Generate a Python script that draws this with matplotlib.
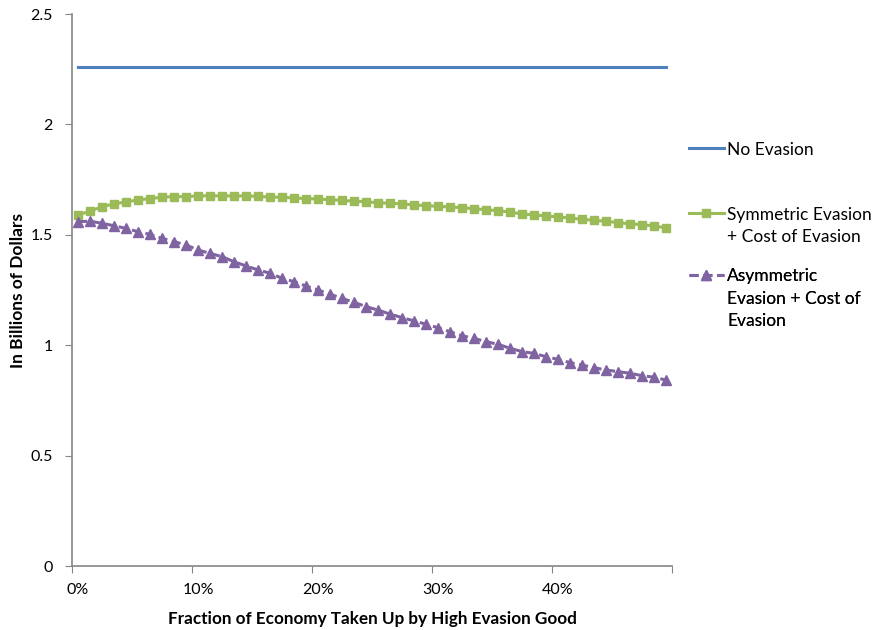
import matplotlib
matplotlib.use("Agg")
import matplotlib.pyplot as plt
from matplotlib.ticker import FixedLocator, NullFormatter

# fraction of economy taken up by high evasion good, 0% .. 49%
fractions = list(range(50))
x_tick_labels = ["0%", "10%", "20%", "30%", "40%"]
y_ticks = [0, 0.5, 1, 1.5, 2, 2.5]
y_tick_labels = ["0", "0.5", "1", "1.5", "2", "2.5"]

series_names = ["No Evasion",
                "Symmetric Evasion\n+ Cost of Evasion",
                "Asymmetric\nEvasion + Cost of\nEvasion"]

no_evasion = [2.26] * 50

symmetric = [
    1.590, 1.607, 1.627, 1.640, 1.649, 1.658, 1.664, 1.670, 1.673, 1.673,
    1.676, 1.677, 1.676, 1.676, 1.676, 1.674, 1.671, 1.670, 1.667, 1.664,
    1.662, 1.659, 1.656, 1.652, 1.650, 1.645, 1.643, 1.640, 1.635, 1.632,
    1.629, 1.626, 1.623, 1.618, 1.614, 1.609, 1.603, 1.594, 1.590, 1.585,
    1.581, 1.576, 1.570, 1.566, 1.561, 1.555, 1.550, 1.546, 1.540, 1.531,
]

asymmetric = [
    1.559, 1.562, 1.552, 1.541, 1.529, 1.514, 1.502, 1.484, 1.469, 1.454,
    1.431, 1.416, 1.401, 1.378, 1.359, 1.341, 1.326, 1.303, 1.288, 1.268,
    1.250, 1.231, 1.212, 1.194, 1.175, 1.159, 1.141, 1.125, 1.110, 1.095,
    1.079, 1.061, 1.043, 1.031, 1.016, 1.004, 0.986, 0.971, 0.963, 0.948,
    0.936, 0.921, 0.910, 0.898, 0.888, 0.880, 0.873, 0.862, 0.855, 0.842,
]

plt.rcParams['font.family'] = ['Lato', 'DejaVu Sans']

fig = plt.figure(figsize=(8.72, 6.3), dpi=100)
ax = fig.add_axes([72 / 872, 64 / 630, 600 / 872, 552 / 630])

l1, = ax.plot(fractions, no_evasion, color='#4F81BD', linewidth=2.2)
l2, = ax.plot(fractions, symmetric, color='#9BBB59', linewidth=2.2, marker='s',
              markersize=6)
l3, = ax.plot(fractions, asymmetric, color='#8064A2', linewidth=2.2,
              linestyle=(0, (3, 1.5)), marker='^', markersize=7.5)

ax.set_xlim(-0.5, 49.5)
ax.set_ylim(0, 2.5)

# category axis: tick marks between categories, labels on categories
ax.xaxis.set_major_locator(FixedLocator([-0.5, 9.5, 19.5, 29.5, 39.5, 49.5]))
ax.xaxis.set_major_formatter(NullFormatter())
ax.xaxis.set_minor_locator(FixedLocator([0, 10, 20, 30, 40]))
ax.set_xticklabels(x_tick_labels, minor=True)
ax.tick_params(axis='x', which='minor', length=0, labelsize=11.5, pad=12)
ax.tick_params(axis='x', which='major', length=5, color='#868686')

ax.set_yticks(y_ticks)
ax.set_yticklabels(y_tick_labels)
ax.tick_params(axis='y', length=5, color='#868686', labelsize=11.5, pad=9)

for side in ['top', 'right']:
    ax.spines[side].set_visible(False)
for side in ['left', 'bottom']:
    ax.spines[side].set_color('#868686')
    ax.spines[side].set_linewidth(1.2)

ax.set_xlabel("Fraction of Economy Taken Up by High Evasion Good",
              fontsize=12.3, fontweight='bold', labelpad=10)
ax.set_ylabel("In Billions of Dollars", fontsize=12.5, fontweight='bold', labelpad=3)

# one legend block per series, placed like the Excel legend
legend_tops = [0.769, 0.651, 0.539]
for handle, name, top in zip([l1, l2, l3], series_names, legend_tops):
    leg = ax.legend([handle], [name], loc='upper left', bbox_to_anchor=(1.028, top),
                    frameon=False, fontsize=12.5, handlelength=2.0,
                    handletextpad=0.2, borderpad=0, borderaxespad=0)
    for txt in leg.get_texts():
        txt.set_linespacing(1.48)
    for box in leg._legend_handle_box.get_children()[0].get_children():
        box.align = 'top'
    ax.add_artist(leg)

plt.savefig("out.png", dpi=100)
plt.close()
